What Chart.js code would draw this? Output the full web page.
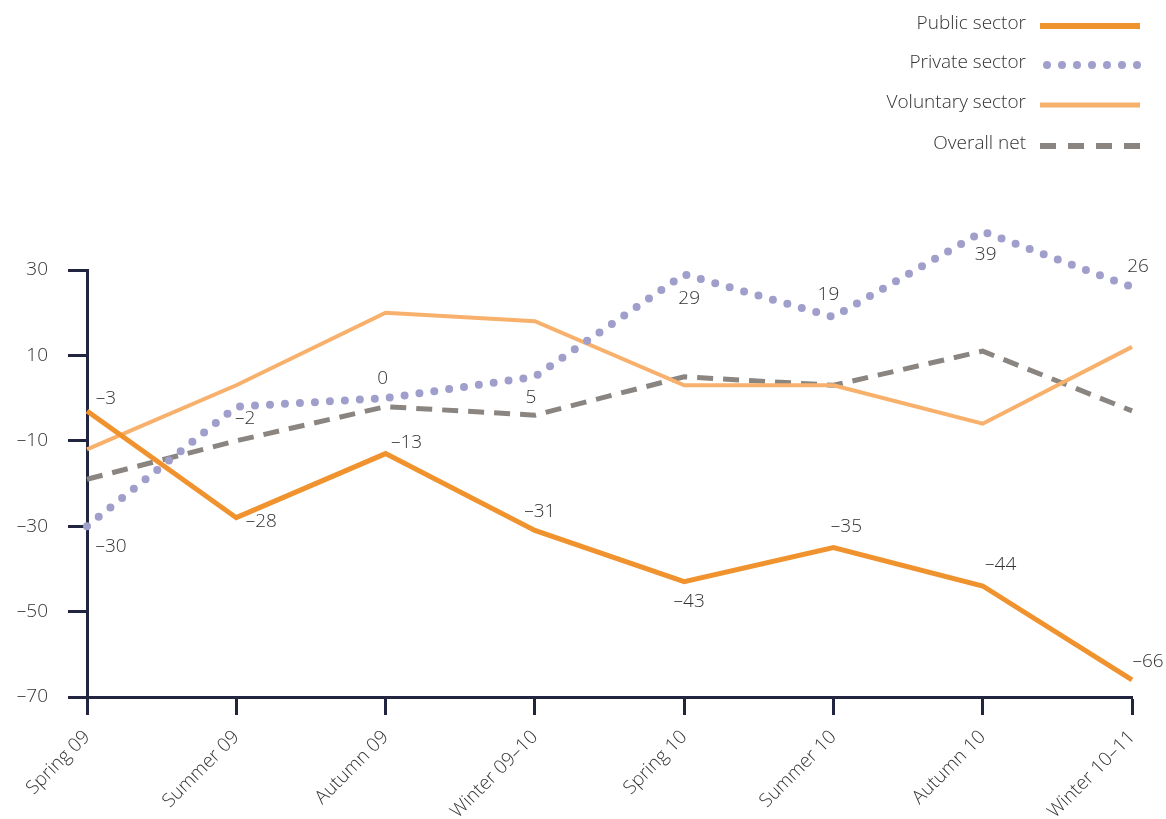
<!DOCTYPE html>
<html lang="en">
<head>
  <meta charset="UTF-8" />
  <title>Net balance by sector</title>
  <script src="https://cdn.jsdelivr.net/npm/chart.js@4.4.1/dist/chart.umd.min.js"></script>
  <style>
    html, body { margin: 0; padding: 0; background: #fff; }
    #wrap { position: relative; width: 1166px; height: 819px; }
  </style>
</head>
<body>
  <div id="wrap"><canvas id="chart" width="1166" height="819"></canvas></div>

  <script>
    // data
    const seasons = ['Spring 09', 'Summer 09', 'Autumn 09', 'Winter 09\u201310',
                     'Spring 10', 'Summer 10', 'Autumn 10', 'Winter 10\u201311'];
    const publicSector    = [-3, -28, -13, -31, -43, -35, -44, -66];
    const privateSector   = [-30, -2, 0, 5, 29, 19, 39, 26];
    const voluntarySector = [-12, 3, 20, 18, 3, 3, -6, 12];
    const overallNet      = [-19, -10, -2, -4, 5, 3, 11, -3];
    const yTicks = [30, 10, -10, -30, -50, -70];

    // where the value labels sit relative to their point (dx, dy)
    const publicLabelOffsets  = [[19, -12], [25, 4], [21, -11], [5, -19], [5, 20], [13, -21], [18, -21], [16, -18]];
    const privateLabelOffsets = [[24, 20], [9, 12], [-3, -20], [-4, 21], [5, 24], [-5, -22], [3, 23], [6, -20]];

    const AXIS = '#22253f';
    const TEXT = '#333';
    const FONT = "'Open Sans', 'Noto Sans', sans-serif";

    const fmt = v => v < 0 ? '\u2013' + Math.abs(v) : String(v);

    // legend (text left of a line sample) + data labels
    const extras = {
      id: 'extras',
      afterDatasetsDraw(chart) {
        const ctx = chart.ctx;
        ctx.save();
        ctx.font = '300 19px ' + FONT;
        ctx.fillStyle = TEXT;
        ctx.textAlign = 'center';
        ctx.textBaseline = 'middle';
        chart.data.datasets.forEach((ds, i) => {
          if (!ds.labelOffsets) return;
          const meta = chart.getDatasetMeta(i);
          meta.data.forEach((pt, j) => {
            const [dx, dy] = ds.labelOffsets[j];
            ctx.fillText(fmt(ds.data[j]), pt.x + dx, pt.y + dy);
          });
        });

        const rowY = [24, 63, 103, 144];
        chart.data.datasets.forEach((ds, i) => {
          const y = rowY[i];
          ctx.textAlign = 'right';
          ctx.fillStyle = TEXT;
          ctx.fillText(ds.label, 1026, y);
          ctx.beginPath();
          ctx.strokeStyle = ds.borderColor;
          ctx.lineWidth = ds.legendWidth || ds.borderWidth;
          ctx.lineCap = ds.borderCapStyle || 'butt';
          ctx.setLineDash(ds.legendDash || ds.borderDash || []);
          ctx.moveTo(ds.legendStart || 1040, y + 2);
          ctx.lineTo(1140, y + 2);
          ctx.stroke();
        });
        ctx.restore();
      }
    };

    new Chart(document.getElementById('chart'), {
      type: 'line',
      data: {
        labels: seasons,
        datasets: [
          {
            label: 'Public sector',
            data: publicSector,
            borderColor: '#f0922e',
            borderWidth: 5,
            labelOffsets: publicLabelOffsets,
            legendWidth: 6,
            order: 1
          },
          {
            label: 'Private sector',
            data: privateSector,
            borderColor: '#a09fcc',
            borderWidth: 8,
            borderDash: [0, 15],
            borderCapStyle: 'round',
            labelOffsets: privateLabelOffsets,
            legendWidth: 8,
            legendDash: [0, 15],
            legendStart: 1047,
            order: 2
          },
          {
            label: 'Voluntary sector',
            data: voluntarySector,
            borderColor: '#f8b16c',
            borderWidth: 4,
            legendWidth: 5,
            order: 3
          },
          {
            label: 'Overall net',
            data: overallNet,
            borderColor: '#8a8580',
            borderWidth: 5,
            borderDash: [16, 10],
            legendWidth: 6,
            legendDash: [16, 12],
            order: 4
          }
        ]
      },
      options: {
        responsive: false,
        animation: false,
        datasets: {
          line: { pointRadius: 0, tension: 0, clip: false, fill: false }
        },
        layout: { padding: { top: 270, right: 34, left: 0, bottom: 0 } },
        scales: {
          x: {
            offset: false,
            afterFit: s => { s.height = 122; },
            grid: { drawOnChartArea: false, drawTicks: true, tickLength: 18, tickWidth: 3, tickColor: AXIS },
            border: { display: true, color: AXIS, width: 3 },
            ticks: {
              minRotation: 45,
              maxRotation: 45,
              autoSkip: false,
              padding: 11,
              color: TEXT,
              font: { family: FONT, size: 19, weight: '300' }
            }
          },
          y: {
            min: -70,
            max: 30,
            afterFit: s => { s.width = 87; },
            afterBuildTicks: s => { s.ticks = yTicks.map(v => ({ value: v })); },
            grid: { drawOnChartArea: false, drawTicks: true, tickLength: 19, tickWidth: 3, tickColor: AXIS },
            border: { display: true, color: AXIS, width: 3 },
            ticks: {
              padding: 20,
              color: TEXT,
              callback: v => fmt(v),
              font: { family: FONT, size: 19, weight: '300' }
            }
          }
        },
        plugins: {
          legend: { display: false },
          tooltip: { enabled: false }
        }
      },
      plugins: [extras]
    });
  </script>
</body>
</html>
